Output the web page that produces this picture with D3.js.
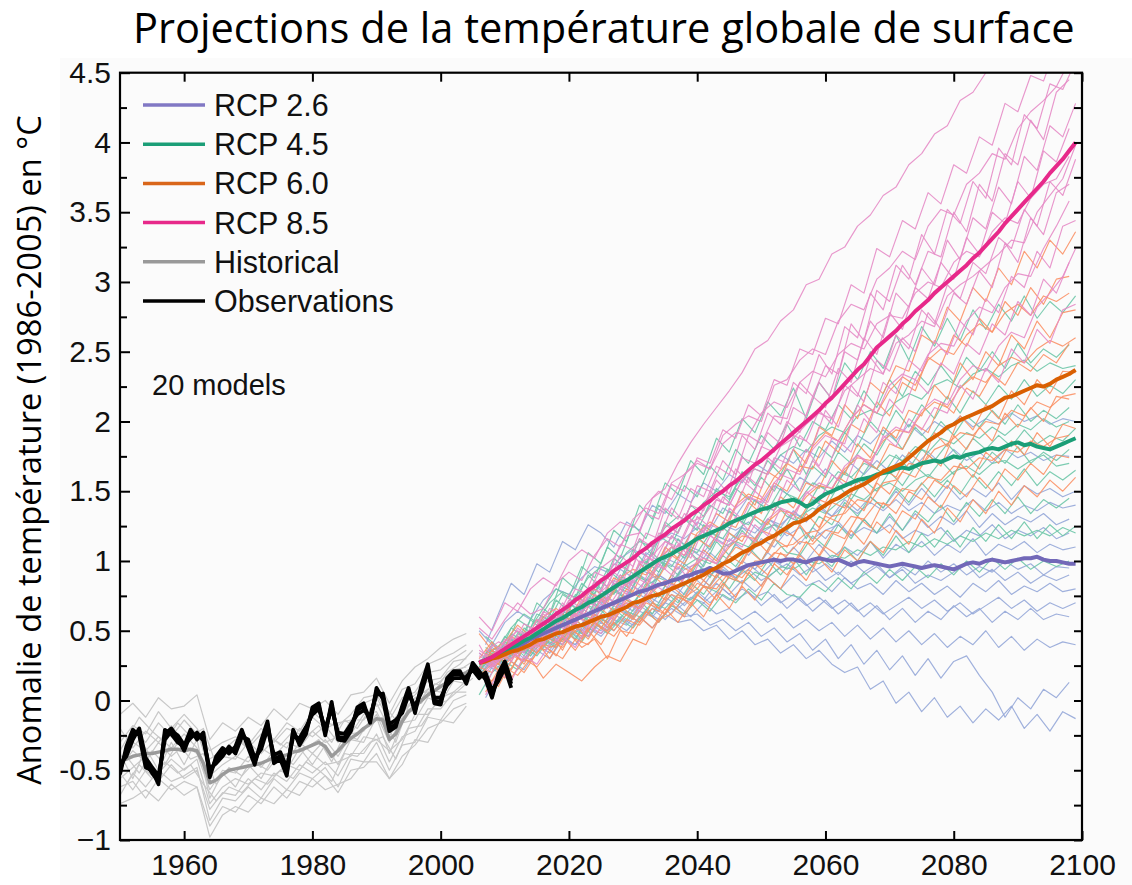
<!DOCTYPE html>
<html><head><meta charset="utf-8">
<script src="https://cdn.jsdelivr.net/npm/d3@7"></script>
<style>body{margin:0;background:#fff}</style>
</head><body>
<svg id="c" width="1132" height="885"></svg>
<script>
// ---------------- DATA ----------------
const xTicks = [1960, 1980, 2000, 2020, 2040, 2060, 2080, 2100];
const yMajorTicks = [-1, -0.5, 0, 0.5, 1, 1.5, 2, 2.5, 3, 3.5, 4, 4.5];
const yTickLabels = ["\u22121", "-0.5", "0", "0.5", "1", "1.5", "2", "2.5", "3", "3.5", "4", "4.5"];
const yMinorTicks = [-0.75, -0.25, 0.25, 0.75, 1.25, 1.75, 2.25, 2.75, 3.25, 3.75, 4.25];
const legendLabels = ["RCP 2.6", "RCP 4.5", "RCP 6.0", "RCP 8.5", "Historical", "Observations"];

// multi-model means, annual from 2006
const rcp26Mean = [0.27,0.29,0.31,0.33,0.35, 0.37,0.39,0.41,0.44,0.46, 0.48,0.50,0.52,0.54,0.56, 0.58,0.60,0.62,0.64,0.66,
  0.68,0.70,0.72,0.74,0.76, 0.78,0.79,0.81,0.83,0.84, 0.86,0.87,0.89,0.90,0.92, 0.93,0.95,0.93,0.91,0.91,
  0.93,0.95,0.97,0.98,0.99, 1.00,1.01,1.00,1.01,1.01, 1.00,0.99,1.01,1.02,1.01, 1.00,1.01,0.99,0.97,0.99,
  1.00,0.99,0.98,0.97,0.96, 0.97,0.98,0.97,0.96,0.95, 0.96,0.97,0.96,0.95,0.94, 0.96,0.98,0.99,0.98,1.00,
  1.01,1.00,0.99,1.00,1.01, 1.02,1.02,1.03,1.01,1.00, 1.00,0.99,0.98,0.98];
const rcp45Mean = [0.27,0.29,0.31,0.33,0.35, 0.38,0.40,0.43,0.45,0.48, 0.51,0.54,0.57,0.59,0.62, 0.65,0.67,0.70,0.72,0.75,
  0.78,0.81,0.84,0.86,0.89, 0.92,0.95,0.98,1.01,1.03, 1.05,1.08,1.10,1.13,1.16, 1.18,1.20,1.22,1.24,1.27,
  1.29,1.31,1.33,1.35,1.37, 1.38,1.40,1.42,1.43,1.44, 1.42,1.39,1.41,1.45,1.48, 1.50,1.52,1.54,1.56,1.58,
  1.59,1.60,1.62,1.63,1.64, 1.66,1.67,1.66,1.68,1.70, 1.71,1.72,1.71,1.73,1.75, 1.74,1.76,1.77,1.78,1.80,
  1.81,1.80,1.82,1.84,1.85, 1.83,1.84,1.82,1.81,1.80, 1.82,1.84,1.86,1.88];
const rcp60Mean = [0.27,0.28,0.30,0.31,0.33, 0.35,0.36,0.38,0.40,0.43, 0.44,0.46,0.48,0.49,0.51, 0.53,0.54,0.56,0.58,0.60,
  0.61,0.63,0.65,0.67,0.70, 0.71,0.73,0.75,0.76,0.78, 0.80,0.82,0.84,0.86,0.88, 0.90,0.93,0.95,0.98,1.00,
  1.03,1.06,1.08,1.11,1.13, 1.16,1.18,1.21,1.24,1.27, 1.28,1.30,1.33,1.37,1.40, 1.43,1.45,1.48,1.51,1.53,
  1.55,1.58,1.61,1.64,1.66, 1.68,1.70,1.74,1.78,1.82, 1.86,1.89,1.92,1.96,1.98, 2.01,2.03,2.05,2.07,2.09,
  2.11,2.14,2.17,2.18,2.20, 2.22,2.24,2.26,2.25,2.27, 2.30,2.32,2.34,2.37];
const rcp85Mean = [0.27,0.29,0.31,0.34,0.37, 0.40,0.43,0.46,0.49,0.52, 0.55,0.58,0.62,0.65,0.68, 0.72,0.75,0.79,0.82,0.86,
  0.89,0.93,0.96,0.99,1.02, 1.06,1.09,1.13,1.16,1.19, 1.23,1.26,1.29,1.33,1.36, 1.40,1.43,1.47,1.50,1.54,
  1.57,1.61,1.65,1.69,1.72, 1.76,1.80,1.84,1.88,1.92, 1.96,2.00,2.04,2.08,2.13, 2.17,2.22,2.27,2.32,2.37,
  2.41,2.47,2.53,2.57,2.61, 2.65,2.70,2.74,2.79,2.83, 2.87,2.92,2.96,3.00,3.04, 3.08,3.12,3.17,3.21,3.26,
  3.31,3.36,3.42,3.47,3.52, 3.57,3.62,3.67,3.72,3.78, 3.83,3.88,3.94,4.00];

// individual model runs, one value every 2 years
const rcp26Models = [
 [0.40,0.62,0.84,0.76,0.98,0.92,1.14,1.08,1.26,1.20,1.10,1.28,1.22,1.40,1.34,1.48,1.42,1.56,1.50,1.62,1.56,1.70,1.64,1.76,1.70,1.80,1.74,1.86,1.78,1.90,1.84,1.94,1.86,1.98,1.90,2.00,1.94,2.04,1.96,2.02,1.98,2.06,2.00,2.04,1.98,2.02,2.00],
 [0.22,0.36,0.30,0.46,0.40,0.58,0.52,0.70,0.64,0.82,0.76,0.94,0.88,1.06,1.00,1.18,1.12,1.28,1.22,1.38,1.32,1.46,1.40,1.54,1.48,1.60,1.54,1.66,1.58,1.70,1.62,1.72,1.64,1.76,1.68,1.78,1.70,1.80,1.72,1.78,1.70,1.80,1.74,1.78,1.72,1.76,1.75],
 [0.34,0.30,0.44,0.38,0.52,0.46,0.62,0.56,0.72,0.66,0.80,0.74,0.90,0.84,1.00,0.94,1.08,1.02,1.16,1.10,1.24,1.16,1.30,1.24,1.36,1.28,1.40,1.32,1.44,1.36,1.46,1.38,1.50,1.40,1.52,1.42,1.54,1.44,1.52,1.46,1.56,1.44,1.54,1.48,1.52,1.46,1.50],
 [0.26,0.38,0.32,0.42,0.50,0.44,0.58,0.50,0.66,0.60,0.74,0.68,0.82,0.76,0.90,0.84,0.98,0.90,1.06,0.98,1.12,1.04,1.16,1.10,1.22,1.12,1.24,1.16,1.28,1.18,1.30,1.20,1.32,1.22,1.34,1.24,1.32,1.26,1.36,1.24,1.34,1.26,1.32,1.28,1.34,1.26,1.30],
 [0.30,0.24,0.40,0.34,0.46,0.40,0.54,0.48,0.62,0.56,0.68,0.62,0.76,0.70,0.82,0.76,0.90,0.82,0.96,0.88,1.00,0.94,1.06,0.98,1.10,1.00,1.12,1.02,1.10,1.04,1.14,1.02,1.12,1.06,1.14,1.04,1.12,1.06,1.16,1.04,1.12,1.08,1.14,1.06,1.12,1.08,1.10],
 [0.20,0.32,0.28,0.40,0.34,0.48,0.42,0.56,0.50,0.62,0.56,0.70,0.64,0.76,0.70,0.84,0.76,0.90,0.82,0.94,0.88,0.98,0.90,1.00,0.94,1.02,0.92,0.98,0.90,1.00,0.92,0.98,0.88,0.96,0.90,1.00,0.92,0.98,0.90,0.96,0.92,1.00,0.94,0.98,0.90,0.96,0.95],
 [0.32,0.26,0.38,0.30,0.42,0.36,0.50,0.44,0.56,0.50,0.62,0.56,0.68,0.62,0.74,0.68,0.80,0.72,0.84,0.76,0.86,0.78,0.88,0.80,0.90,0.82,0.86,0.78,0.88,0.80,0.84,0.76,0.86,0.78,0.84,0.76,0.82,0.74,0.84,0.78,0.86,0.76,0.82,0.78,0.84,0.78,0.80],
 [0.24,0.36,0.30,0.44,0.38,0.50,0.44,0.56,0.48,0.62,0.56,0.66,0.60,0.72,0.64,0.76,0.68,0.78,0.70,0.80,0.72,0.78,0.68,0.76,0.66,0.74,0.64,0.72,0.62,0.70,0.60,0.68,0.58,0.66,0.56,0.64,0.58,0.68,0.60,0.66,0.56,0.64,0.58,0.66,0.58,0.62,0.60],
 [0.28,0.22,0.34,0.40,0.34,0.46,0.40,0.52,0.46,0.56,0.50,0.62,0.56,0.66,0.58,0.68,0.60,0.70,0.62,0.66,0.58,0.64,0.56,0.62,0.52,0.58,0.50,0.56,0.46,0.54,0.44,0.52,0.42,0.50,0.40,0.48,0.38,0.46,0.40,0.50,0.38,0.46,0.36,0.44,0.38,0.42,0.40],
 [0.18,0.30,0.26,0.38,0.32,0.44,0.38,0.50,0.44,0.56,0.50,0.60,0.54,0.64,0.58,0.66,0.60,0.62,0.54,0.58,0.50,0.56,0.46,0.52,0.42,0.48,0.36,0.44,0.30,0.40,0.26,0.36,0.22,0.32,0.18,0.30,0.16,0.28,0.32,0.18,0.06,-0.12,0.02,-0.06,0.08,0.02,0.13],
 [0.26,0.20,0.34,0.28,0.40,0.34,0.46,0.40,0.52,0.46,0.56,0.50,0.60,0.52,0.62,0.56,0.58,0.50,0.54,0.44,0.50,0.40,0.44,0.34,0.40,0.30,0.36,0.26,0.20,0.24,0.08,0.14,-0.02,0.06,-0.08,0.02,-0.12,-0.04,-0.16,-0.06,-0.14,-0.04,-0.20,-0.10,-0.22,-0.08,-0.13],
 [0.50,0.40,0.56,0.64,0.58,0.72,0.80,0.76,0.88,0.96,0.92,1.02,1.08,1.04,1.14,1.20,1.16,1.24,1.18,1.26,1.22,1.28,1.20,1.26,1.18,1.24,1.16,1.22,1.26,1.18,1.24,1.20,1.26,1.16,1.22,1.18,1.24,1.14,1.22,1.18,1.26,1.16,1.22,1.18,1.24,1.16,1.20],
 [0.02,0.18,0.28,0.22,0.36,0.30,0.44,0.40,0.52,0.48,0.58,0.54,0.64,0.60,0.70,0.66,0.74,0.70,0.78,0.72,0.80,0.74,0.78,0.70,0.76,0.68,0.74,0.66,0.72,0.64,0.70,0.62,0.68,0.74,0.66,0.72,0.64,0.70,0.62,0.68,0.74,0.66,0.72,0.64,0.70,0.66,0.70],
 [0.34,0.26,0.40,0.34,0.48,0.56,0.50,0.62,0.70,0.64,0.74,0.80,0.76,0.86,0.90,0.84,0.94,0.98,0.90,0.96,0.88,0.94,0.86,0.92,0.98,0.90,0.96,0.86,0.92,0.84,0.90,0.96,0.88,0.94,0.84,0.90,0.86,0.92,0.98,0.88,0.94,0.86,0.92,0.84,0.90,0.86,0.90],
 [0.16,0.32,0.44,0.38,0.54,0.48,0.64,0.60,0.74,0.70,0.84,0.80,0.94,0.90,1.02,0.98,1.10,1.06,1.18,1.14,1.24,1.20,1.30,1.26,1.34,1.30,1.38,1.32,1.40,1.34,1.42,1.36,1.44,1.36,1.42,1.34,1.40,1.36,1.44,1.36,1.42,1.34,1.40,1.36,1.42,1.38,1.40]
];
const rcp45Models = [
 [0.38,0.32,0.52,0.46,0.70,0.62,0.88,0.80,1.06,0.98,1.22,1.14,1.40,1.30,1.56,1.48,1.72,1.62,1.88,1.78,2.02,1.92,2.14,2.04,2.24,2.02,2.28,2.16,2.42,2.30,2.50,2.38,2.62,2.44,2.68,2.54,2.74,2.58,2.80,2.66,2.84,2.72,2.90,2.74,2.86,2.78,2.90],
 [0.24,0.40,0.36,0.58,0.52,0.66,0.80,0.74,0.96,0.88,1.10,1.02,1.26,1.16,1.40,1.32,1.54,1.46,1.68,1.58,1.80,1.70,1.90,1.80,1.98,1.82,2.00,1.94,2.12,2.02,2.22,2.10,2.30,2.18,2.36,2.26,2.40,2.28,2.46,2.36,2.50,2.38,2.56,2.42,2.52,2.46,2.55],
 [0.36,0.30,0.48,0.42,0.62,0.58,0.76,0.70,0.90,0.80,1.02,0.94,1.16,1.04,1.28,1.20,1.40,1.32,1.52,1.44,1.64,1.54,1.72,1.62,1.80,1.62,1.82,1.74,1.92,1.82,2.00,1.90,2.08,1.96,2.12,2.02,2.18,2.06,2.22,2.12,2.26,2.16,2.30,2.18,2.26,2.20,2.30],
 [0.22,0.30,0.46,0.40,0.58,0.50,0.72,0.64,0.84,0.76,0.94,0.86,1.08,0.98,1.18,1.12,1.30,1.22,1.40,1.34,1.52,1.44,1.60,1.50,1.66,1.50,1.68,1.60,1.78,1.70,1.84,1.76,1.92,1.80,1.96,1.86,2.00,1.90,2.04,1.96,2.08,1.98,2.12,2.00,2.08,2.02,2.10],
 [0.34,0.38,0.30,0.52,0.46,0.62,0.56,0.76,0.68,0.86,0.76,0.94,0.88,1.06,0.96,1.16,1.06,1.26,1.18,1.36,1.28,1.44,1.36,1.52,1.44,1.38,1.54,1.48,1.64,1.56,1.70,1.62,1.76,1.66,1.80,1.72,1.84,1.74,1.88,1.80,1.90,1.82,1.94,1.84,1.90,1.86,1.95],
 [0.26,0.40,0.34,0.48,0.42,0.60,0.52,0.70,0.62,0.80,0.72,0.90,0.82,1.00,0.92,1.10,1.02,1.18,1.08,1.24,1.16,1.34,1.26,1.42,1.32,1.28,1.44,1.38,1.54,1.44,1.58,1.50,1.64,1.54,1.68,1.60,1.72,1.62,1.76,1.66,1.78,1.70,1.82,1.70,1.78,1.72,1.80],
 [0.32,0.26,0.44,0.36,0.52,0.44,0.62,0.54,0.72,0.64,0.80,0.72,0.90,0.80,0.98,0.90,1.06,0.96,1.14,1.04,1.22,1.12,1.28,1.18,1.34,1.16,1.32,1.26,1.42,1.32,1.46,1.38,1.52,1.42,1.56,1.46,1.58,1.48,1.62,1.52,1.64,1.54,1.66,1.54,1.64,1.58,1.65],
 [0.20,0.36,0.30,0.44,0.38,0.52,0.46,0.62,0.54,0.70,0.60,0.76,0.68,0.84,0.74,0.90,0.82,0.98,0.88,1.04,0.96,1.10,1.00,1.16,1.06,1.04,1.18,1.10,1.26,1.16,1.30,1.20,1.34,1.22,1.36,1.28,1.40,1.28,1.42,1.32,1.44,1.34,1.46,1.34,1.44,1.38,1.45],
 [0.34,0.28,0.40,0.32,0.46,0.38,0.54,0.44,0.60,0.52,0.66,0.58,0.72,0.62,0.78,0.70,0.84,0.76,0.90,0.80,0.94,0.86,1.00,0.90,1.02,0.90,1.04,0.96,1.10,1.00,1.14,1.04,1.18,1.06,1.20,1.10,1.22,1.10,1.24,1.14,1.26,1.16,1.28,1.16,1.26,1.18,1.25],
 [0.24,0.34,0.26,0.40,0.32,0.44,0.38,0.50,0.42,0.56,0.48,0.58,0.52,0.64,0.56,0.68,0.62,0.72,0.64,0.76,0.70,0.80,0.72,0.84,0.76,0.74,0.84,0.78,0.88,0.80,0.92,0.84,0.94,0.86,0.96,0.88,0.98,0.90,1.00,0.92,1.02,0.94,1.02,0.94,1.00,0.96,1.00],
 [0.46,0.38,0.52,0.62,0.56,0.70,0.78,0.74,0.88,0.96,0.92,1.06,1.14,1.10,1.24,1.32,1.28,1.42,1.50,1.46,1.60,1.66,1.62,1.76,1.82,1.78,1.90,1.96,1.92,2.04,2.08,2.04,2.14,2.20,2.16,2.26,2.30,2.24,2.34,2.38,2.32,2.40,2.44,2.36,2.42,2.38,2.40],
 [0.04,0.20,0.28,0.22,0.36,0.44,0.40,0.52,0.60,0.56,0.68,0.74,0.70,0.82,0.88,0.84,0.96,1.02,0.98,1.10,1.14,1.10,1.22,1.26,1.22,1.32,1.38,1.34,1.42,1.48,1.44,1.52,1.56,1.50,1.58,1.62,1.56,1.64,1.68,1.62,1.70,1.72,1.66,1.72,1.76,1.68,1.70],
 [0.36,0.30,0.22,0.38,0.32,0.44,0.40,0.50,0.46,0.58,0.54,0.64,0.60,0.70,0.66,0.76,0.72,0.82,0.78,0.88,0.84,0.92,0.88,0.96,0.94,1.00,0.98,1.04,1.02,1.08,1.04,1.10,1.08,1.14,1.10,1.16,1.12,1.18,1.14,1.20,1.16,1.22,1.18,1.22,1.18,1.24,1.20],
 [0.18,0.28,0.42,0.34,0.50,0.46,0.62,0.56,0.70,0.66,0.80,0.76,0.90,0.86,1.00,0.96,1.10,1.06,1.20,1.16,1.30,1.26,1.40,1.36,1.48,1.44,1.56,1.52,1.64,1.60,1.70,1.66,1.76,1.72,1.82,1.78,1.88,1.84,1.92,1.88,1.96,1.90,1.98,1.94,2.02,1.96,2.00]
];
const rcp60Models = [
 [0.36,0.30,0.46,0.40,0.58,0.50,0.66,0.60,0.78,0.72,0.88,0.82,0.98,0.90,1.10,1.02,1.20,1.16,1.34,1.28,1.50,1.40,1.64,1.58,1.80,1.70,1.96,1.90,2.12,2.02,2.28,2.20,2.40,2.36,2.62,2.56,2.82,2.72,2.96,2.86,3.10,2.98,3.22,3.10,3.30,3.20,3.36],
 [0.22,0.36,0.30,0.46,0.42,0.56,0.50,0.66,0.58,0.76,0.70,0.86,0.78,0.96,0.88,1.04,0.98,1.16,1.10,1.28,1.24,1.42,1.34,1.56,1.50,1.68,1.66,1.86,1.78,1.98,1.92,2.14,2.04,2.28,2.22,2.46,2.40,2.62,2.54,2.74,2.64,2.86,2.76,2.96,2.84,3.02,3.04],
 [0.32,0.26,0.42,0.36,0.40,0.54,0.48,0.62,0.56,0.72,0.64,0.80,0.74,0.90,0.82,0.98,0.92,1.08,1.00,1.20,1.14,1.32,1.26,1.46,1.38,1.56,1.52,1.72,1.62,1.84,1.74,1.96,1.88,2.08,2.04,2.26,2.16,2.42,2.30,2.50,2.40,2.62,2.52,2.72,2.60,2.78,2.80],
 [0.20,0.14,0.24,0.18,0.30,0.16,0.26,0.20,0.14,0.24,0.32,0.28,0.44,0.40,0.58,0.62,0.74,0.80,0.92,0.98,1.10,1.06,1.22,1.18,1.36,1.30,1.46,1.42,1.60,1.54,1.72,1.66,1.84,1.80,1.98,1.92,2.14,2.06,2.24,2.18,2.34,2.26,2.42,2.36,2.48,2.42,2.56],
 [0.30,0.36,0.28,0.44,0.38,0.52,0.42,0.58,0.50,0.66,0.58,0.72,0.66,0.80,0.72,0.88,0.80,0.94,0.88,1.04,0.98,1.16,1.06,1.22,1.18,1.34,1.24,1.42,1.38,1.58,1.48,1.66,1.60,1.78,1.70,1.92,1.82,2.04,1.94,2.12,2.02,2.22,2.12,2.30,2.20,2.36,2.35],
 [0.24,0.20,0.36,0.30,0.46,0.36,0.40,0.54,0.44,0.62,0.52,0.68,0.60,0.76,0.66,0.82,0.74,0.90,0.82,0.98,0.92,1.08,1.00,1.16,1.10,1.26,1.14,1.32,1.28,1.44,1.36,1.56,1.48,1.64,1.60,1.76,1.68,1.90,1.80,1.96,1.86,2.06,1.96,2.10,2.00,2.18,2.16],
 [0.34,0.26,0.22,0.40,0.34,0.48,0.36,0.54,0.44,0.60,0.50,0.62,0.56,0.70,0.62,0.76,0.68,0.82,0.72,0.90,0.84,0.98,0.90,1.06,0.98,1.14,1.04,1.20,1.16,1.32,1.24,1.42,1.34,1.50,1.44,1.58,1.52,1.70,1.60,1.78,1.70,1.86,1.76,1.92,1.82,1.98,1.95],
 [0.18,0.26,0.16,0.30,0.28,0.40,0.32,0.48,0.38,0.44,0.30,0.50,0.48,0.64,0.56,0.70,0.60,0.76,0.68,0.84,0.74,0.92,0.82,0.98,0.90,1.04,0.96,1.10,1.04,1.22,1.12,1.28,1.20,1.36,1.30,1.46,1.38,1.54,1.46,1.60,1.50,1.66,1.58,1.70,1.62,1.76,1.74],
 [0.32,0.22,0.36,0.26,0.42,0.30,0.46,0.36,0.50,0.40,0.56,0.46,0.60,0.52,0.66,0.56,0.70,0.60,0.76,0.66,0.82,0.72,0.88,0.80,0.96,0.86,1.02,0.92,1.08,1.00,1.14,1.06,1.22,1.12,1.30,1.20,1.38,1.28,1.44,1.34,1.50,1.40,1.54,1.46,1.58,1.50,1.60],
 [0.48,0.36,0.42,0.54,0.46,0.60,0.66,0.58,0.74,0.80,0.72,0.88,0.94,0.90,1.02,1.10,1.04,1.20,1.28,1.22,1.40,1.48,1.44,1.60,1.70,1.64,1.82,1.92,1.86,2.02,2.12,2.06,2.22,2.32,2.26,2.44,2.52,2.48,2.62,2.70,2.64,2.78,2.84,2.76,2.90,2.86,2.92],
 [0.06,0.22,0.16,0.30,0.24,0.36,0.30,0.44,0.40,0.52,0.46,0.58,0.54,0.66,0.62,0.74,0.70,0.82,0.80,0.92,0.88,1.00,1.00,1.10,1.12,1.20,1.22,1.32,1.34,1.44,1.42,1.56,1.58,1.70,1.68,1.80,1.84,1.92,1.90,2.00,1.98,2.08,2.04,2.14,2.10,2.18,2.20],
 [0.30,0.42,0.26,0.34,0.48,0.40,0.38,0.52,0.46,0.56,0.50,0.64,0.58,0.70,0.66,0.76,0.72,0.84,0.80,0.90,0.86,0.98,0.96,1.06,1.04,1.14,1.12,1.22,1.20,1.32,1.30,1.42,1.40,1.52,1.50,1.60,1.58,1.68,1.66,1.74,1.72,1.80,1.78,1.86,1.82,1.88,1.90],
 [0.14,0.10,0.28,0.20,0.34,0.44,0.38,0.50,0.58,0.52,0.64,0.70,0.66,0.78,0.86,0.82,0.94,1.02,0.98,1.10,1.18,1.16,1.28,1.36,1.34,1.46,1.54,1.52,1.66,1.74,1.72,1.86,1.94,1.92,2.06,2.14,2.10,2.24,2.32,2.28,2.40,2.46,2.42,2.52,2.58,2.54,2.60]
];
const rcp85Models = [
 [0.35,0.42,0.38,0.55,0.50,0.66,0.62,0.80,0.76,0.95,1.02,1.18,1.20,1.45,1.52,1.70,1.85,1.98,2.10,2.22,2.35,2.52,2.58,2.72,2.80,2.98,3.02,3.20,3.25,3.40,3.48,3.62,3.68,3.84,3.92,4.06,4.12,4.30,4.36,4.50,4.58,4.72,4.80,4.95,5.02,5.15,5.22],
 [0.22,0.40,0.36,0.52,0.44,0.64,0.58,0.76,0.70,0.92,0.88,1.12,1.08,1.34,1.30,1.55,1.50,1.74,1.70,1.94,1.88,2.12,2.04,2.30,2.26,2.52,2.48,2.74,2.70,2.98,2.92,3.24,3.18,3.44,3.38,3.64,3.56,3.84,3.78,4.04,3.98,4.28,4.22,4.48,4.44,4.70,4.80],
 [0.30,0.28,0.45,0.40,0.58,0.52,0.70,0.60,0.80,0.78,0.98,0.94,1.16,1.10,1.38,1.30,1.52,1.46,1.68,1.62,1.90,1.80,2.06,1.98,2.28,2.20,2.48,2.34,2.68,2.60,2.92,2.80,3.12,3.02,3.34,3.20,3.52,3.42,3.72,3.60,3.96,3.84,4.20,4.10,4.42,4.38,4.58],
 [0.36,0.30,0.42,0.50,0.44,0.62,0.56,0.72,0.66,0.86,0.82,1.04,0.96,1.20,1.16,1.38,1.28,1.54,1.50,1.72,1.62,1.90,1.84,2.04,2.02,2.28,2.18,2.40,2.34,2.70,2.58,2.94,2.86,3.12,2.98,3.22,3.18,3.50,3.36,3.70,3.58,3.92,3.84,4.16,4.02,4.36,4.45],
 [0.24,0.38,0.34,0.48,0.52,0.50,0.66,0.60,0.74,0.72,0.92,0.84,1.08,1.00,1.26,1.20,1.40,1.36,1.58,1.48,1.74,1.70,1.92,1.84,2.10,2.04,2.28,2.16,2.50,2.44,2.72,2.60,2.92,2.82,3.10,2.98,3.30,3.16,3.46,3.38,3.68,3.56,3.90,3.80,4.12,4.04,4.28],
 [0.32,0.26,0.44,0.38,0.52,0.46,0.64,0.56,0.72,0.70,0.88,0.80,1.04,0.94,1.20,1.16,1.34,1.26,1.50,1.42,1.66,1.56,1.82,1.78,2.00,1.92,2.18,2.10,2.38,2.28,2.60,2.48,2.78,2.66,2.96,2.88,3.14,3.02,3.32,3.20,3.50,3.42,3.72,3.60,3.94,3.86,4.10],
 [0.20,0.30,0.40,0.34,0.50,0.44,0.60,0.54,0.70,0.66,0.84,0.76,1.00,0.96,1.14,1.10,1.30,1.20,1.44,1.40,1.58,1.50,1.74,1.66,1.90,1.86,2.08,1.98,2.26,2.18,2.46,2.34,2.62,2.52,2.80,2.70,2.98,2.88,3.14,3.06,3.32,3.24,3.52,3.40,3.72,3.62,3.88],
 [0.34,0.28,0.36,0.46,0.40,0.56,0.48,0.64,0.58,0.76,0.72,0.90,0.84,1.04,0.98,1.18,1.08,1.32,1.24,1.46,1.38,1.60,1.52,1.74,1.70,1.90,1.82,2.08,1.96,2.26,2.14,2.44,2.36,2.60,2.50,2.78,2.66,2.92,2.84,3.08,2.96,3.28,3.14,3.46,3.34,3.64,3.70],
 [0.26,0.36,0.30,0.44,0.38,0.52,0.46,0.62,0.54,0.72,0.68,0.86,0.78,0.98,0.94,1.12,1.02,1.24,1.14,1.38,1.30,1.50,1.42,1.62,1.58,1.80,1.68,1.88,1.84,2.12,2.00,2.28,2.20,2.44,2.36,2.58,2.48,2.72,2.62,2.88,2.78,3.04,2.96,3.22,3.10,3.40,3.44],
 [0.30,0.24,0.40,0.32,0.46,0.40,0.56,0.48,0.62,0.58,0.74,0.66,0.86,0.80,0.98,0.90,1.10,1.00,1.18,1.12,1.32,1.22,1.44,1.36,1.58,1.50,1.72,1.62,1.86,1.78,2.02,1.92,2.16,2.06,2.30,2.20,2.42,2.34,2.56,2.48,2.70,2.62,2.86,2.76,3.02,2.92,3.14],
 [0.22,0.34,0.28,0.42,0.36,0.48,0.40,0.56,0.46,0.62,0.58,0.74,0.66,0.84,0.78,0.96,0.86,1.06,0.98,1.16,1.10,1.26,1.18,1.38,1.30,1.50,1.42,1.62,1.54,1.76,1.68,1.90,1.82,2.02,1.94,2.10,2.06,2.26,2.16,2.38,2.28,2.52,2.42,2.66,2.56,2.80,2.84],
 [0.52,0.44,0.58,0.70,0.62,0.66,0.84,0.92,0.86,1.04,1.16,1.10,1.30,1.38,1.34,1.56,1.62,1.70,1.66,1.90,1.98,2.04,2.00,2.26,2.30,2.44,2.52,2.48,2.72,2.84,2.80,3.02,3.10,3.22,3.16,3.40,3.52,3.48,3.70,3.78,3.92,3.88,4.10,4.22,4.30,4.40,4.58],
 [0.10,0.30,0.36,0.28,0.46,0.52,0.48,0.66,0.60,0.78,0.86,0.82,0.98,1.04,1.14,1.08,1.28,1.32,1.44,1.40,1.58,1.66,1.62,1.82,1.88,1.98,2.06,2.02,2.22,2.30,2.38,2.34,2.56,2.62,2.72,2.68,2.90,2.98,3.04,3.12,3.20,3.30,3.28,3.50,3.62,3.74,3.98],
 [0.40,0.24,0.32,0.44,0.38,0.42,0.56,0.50,0.64,0.72,0.66,0.80,0.90,0.84,1.00,1.10,1.04,1.18,1.26,1.22,1.38,1.46,1.42,1.56,1.66,1.62,1.80,1.90,1.86,2.02,2.12,2.06,2.26,2.34,2.30,2.48,2.56,2.54,2.72,2.82,2.78,2.96,3.06,3.04,3.24,3.40,3.58],
 [0.04,0.20,0.14,0.32,0.26,0.40,0.46,0.38,0.54,0.48,0.62,0.70,0.64,0.78,0.86,0.80,0.96,1.02,0.98,1.12,1.20,1.14,1.30,1.38,1.34,1.48,1.56,1.52,1.68,1.76,1.70,1.88,1.96,1.92,2.08,2.16,2.12,2.30,2.40,2.36,2.54,2.64,2.60,2.82,2.92,3.04,3.24],
 [0.60,0.50,0.70,0.64,0.80,0.88,0.82,1.00,1.08,1.02,1.20,1.28,1.24,1.40,1.50,1.44,1.62,1.72,1.66,1.84,1.92,1.90,2.06,2.14,2.10,2.28,2.36,2.32,2.48,2.56,2.52,2.70,2.76,2.74,2.92,3.00,2.96,3.14,3.22,3.18,3.36,3.46,3.42,3.60,3.70,3.74,3.90]
];
// first year of each run's record (runs are sampled every 2 years)
const runStartYears = [2007, 2006];

// historical model runs, every 2 years
const histModels = [
 [-0.10,-0.02,-0.12,0.02,-0.06,-0.04,0.04,-0.28,-0.16,-0.22,-0.12,-0.18,-0.06,-0.14,-0.02,-0.06,0.00,-0.10,0.04,0.06,0.16,-0.02,0.14,0.24,0.30,0.38,0.44,0.48],
 [-0.30,-0.18,-0.24,-0.08,-0.20,-0.10,-0.20,-0.36,-0.30,-0.26,-0.32,-0.20,-0.28,-0.16,-0.22,-0.08,-0.16,-0.18,-0.10,0.02,0.04,-0.10,0.08,0.12,0.26,0.30,0.34,0.40],
 [-0.20,-0.34,-0.22,-0.30,-0.18,-0.30,-0.22,-0.50,-0.40,-0.42,-0.30,-0.38,-0.28,-0.34,-0.20,-0.26,-0.18,-0.30,-0.14,-0.14,-0.02,-0.20,-0.04,0.04,0.14,0.16,0.28,0.30],
 [-0.48,-0.36,-0.44,-0.30,-0.40,-0.32,-0.38,-0.64,-0.50,-0.52,-0.40,-0.48,-0.36,-0.44,-0.30,-0.38,-0.28,-0.40,-0.24,-0.22,-0.10,-0.30,-0.12,-0.06,0.08,0.06,0.20,0.18],
 [-0.56,-0.48,-0.40,-0.52,-0.42,-0.50,-0.42,-0.74,-0.62,-0.56,-0.60,-0.52,-0.54,-0.46,-0.50,-0.38,-0.46,-0.44,-0.40,-0.26,-0.28,-0.36,-0.28,-0.10,-0.10,0.02,0.06,0.14],
 [-0.68,-0.52,-0.62,-0.50,-0.58,-0.54,-0.48,-0.86,-0.70,-0.72,-0.62,-0.70,-0.56,-0.64,-0.52,-0.56,-0.48,-0.62,-0.42,-0.44,-0.30,-0.50,-0.32,-0.30,-0.12,-0.14,0.00,0.04],
 [-0.74,-0.70,-0.64,-0.72,-0.60,-0.68,-0.62,-0.98,-0.82,-0.76,-0.80,-0.70,-0.74,-0.64,-0.68,-0.56,-0.64,-0.60,-0.56,-0.44,-0.44,-0.56,-0.46,-0.28,-0.30,-0.14,-0.16,-0.04],
 [-0.38,-0.56,-0.34,-0.50,-0.30,-0.46,-0.28,-0.70,-0.52,-0.62,-0.46,-0.56,-0.40,-0.50,-0.34,-0.46,-0.32,-0.46,-0.28,-0.30,-0.12,-0.38,-0.16,-0.14,0.02,-0.02,0.14,0.12],
 [-0.36,-0.20,-0.30,-0.16,-0.26,-0.14,-0.24,-0.42,-0.36,-0.28,-0.34,-0.24,-0.30,-0.20,-0.24,-0.12,-0.20,-0.16,-0.14,-0.02,0.02,-0.14,0.02,0.06,0.20,0.22,0.30,0.36],
 [-0.52,-0.64,-0.50,-0.58,-0.46,-0.56,-0.50,-0.78,-0.66,-0.68,-0.56,-0.64,-0.52,-0.58,-0.46,-0.52,-0.44,-0.54,-0.38,-0.38,-0.24,-0.44,-0.26,-0.22,-0.06,-0.06,0.06,0.06],
 [-0.44,-0.30,-0.36,-0.26,-0.34,-0.24,-0.34,-0.54,-0.46,-0.40,-0.44,-0.34,-0.40,-0.30,-0.34,-0.22,-0.30,-0.26,-0.24,-0.10,-0.08,-0.26,-0.08,0.02,0.08,0.14,0.22,0.24],
 [-0.62,-0.58,-0.70,-0.56,-0.64,-0.58,-0.62,-0.90,-0.76,-0.80,-0.68,-0.74,-0.62,-0.70,-0.58,-0.62,-0.54,-0.66,-0.50,-0.48,-0.38,-0.56,-0.40,-0.32,-0.20,-0.16,-0.06,-0.02]
];
// historical runs recorded on odd years, every 2 years from 1951
const histModelsOdd = [
 [-0.28,-0.12,-0.22,-0.30,-0.16,-0.26,-0.20,-0.46,-0.36,-0.30,-0.38,-0.24,-0.32,-0.22,-0.26,-0.18,-0.30,-0.14,-0.20,-0.06,-0.02,-0.14,-0.04,0.06,0.06,0.20,0.26,0.36],
 [-0.60,-0.46,-0.56,-0.44,-0.52,-0.46,-0.60,-0.72,-0.62,-0.66,-0.56,-0.60,-0.50,-0.56,-0.44,-0.50,-0.58,-0.38,-0.40,-0.30,-0.26,-0.42,-0.20,-0.18,-0.04,0.00,0.08,0.16],
 [-0.40,-0.52,-0.36,-0.46,-0.30,-0.42,-0.38,-0.60,-0.48,-0.54,-0.44,-0.50,-0.38,-0.46,-0.34,-0.28,-0.44,-0.24,-0.28,-0.14,-0.12,-0.30,-0.04,-0.02,0.12,0.10,0.22,0.28]
];
// historical multi-model mean, annual 1950-2005
const histMean = [-0.44,-0.42,-0.40,-0.39,-0.38,-0.38,-0.37,-0.36,-0.35,-0.35,
  -0.36,-0.35,-0.36,-0.45,-0.59,-0.57,-0.53,-0.50,-0.49,-0.48,
  -0.47,-0.46,-0.45,-0.43,-0.41,-0.40,-0.39,-0.37,-0.36,-0.34,
  -0.32,-0.30,-0.33,-0.40,-0.36,-0.31,-0.27,-0.24,-0.20,-0.17,
  -0.13,-0.14,-0.28,-0.24,-0.15,-0.08,-0.04,0.00,0.04,0.07,
  0.10,0.13,0.16,0.18,0.20,0.23];
// observational datasets, annual 1950-2011
const obsA = [-0.50,-0.36,-0.24,-0.22,-0.45,-0.52,-0.58,-0.24,-0.20,-0.27,
  -0.36,-0.24,-0.25,-0.26,-0.52,-0.42,-0.37,-0.35,-0.36,-0.23,
  -0.31,-0.44,-0.32,-0.17,-0.42,-0.40,-0.52,-0.23,-0.30,-0.22,
  -0.07,-0.04,-0.23,-0.03,-0.26,-0.27,-0.20,-0.07,-0.04,-0.14,
  0.07,0.03,-0.20,-0.17,-0.06,0.07,-0.07,0.09,0.24,0.00,
  -0.01,0.14,0.19,0.19,0.14,0.25,0.19,0.17,0.04,0.17, 0.26,0.12];
const obsB = [-0.46,-0.40,-0.28,-0.20,-0.41,-0.48,-0.54,-0.28,-0.22,-0.25,
  -0.32,-0.27,-0.23,-0.29,-0.49,-0.45,-0.40,-0.33,-0.38,-0.26,
  -0.28,-0.41,-0.35,-0.20,-0.39,-0.37,-0.48,-0.26,-0.27,-0.19,
  -0.10,-0.06,-0.20,-0.06,-0.23,-0.24,-0.17,-0.10,-0.07,-0.11,
  0.04,0.05,-0.17,-0.14,-0.09,0.04,-0.04,0.06,0.21,0.02,
  0.02,0.11,0.16,0.16,0.17,0.22,0.16,0.20,0.07,0.14, 0.23,0.09];
const obsC = [-0.53,-0.33,-0.21,-0.25,-0.48,-0.50,-0.60,-0.21,-0.24,-0.30,
  -0.33,-0.21,-0.28,-0.23,-0.55,-0.40,-0.34,-0.38,-0.33,-0.21,
  -0.34,-0.46,-0.29,-0.15,-0.45,-0.42,-0.54,-0.21,-0.32,-0.24,
  -0.05,-0.02,-0.25,-0.01,-0.28,-0.29,-0.22,-0.05,-0.02,-0.16,
  0.09,0.01,-0.22,-0.19,-0.04,0.09,-0.09,0.11,0.26,-0.02,
  -0.03,0.16,0.21,0.21,0.12,0.27,0.21,0.15,0.02,0.19, 0.28,0.14];

// ---------------- CHART ----------------
const svg = d3.select('#c');
const plotL = 120, plotR = 1082, plotT = 72.7, plotB = 840;
const x = d3.scaleLinear().domain([1950, 2100]).range([plotL, plotR]);
const y = d3.scaleLinear().domain([-1, 4.5]).range([plotB, plotT]);
const FONT = "'Liberation Sans', Arial, Helvetica, sans-serif";
const TFONT = "'Open Sans', 'Noto Sans', sans-serif";

svg.append('rect').attr('x', 0).attr('y', 0).attr('width', 1132).attr('height', 885).attr('fill', '#fff');
svg.append('rect').attr('x', 60).attr('y', 58).attr('width', 1072).attr('height', 827).attr('fill', '#fbfbfb');

svg.append('defs').append('clipPath').attr('id', 'clip')
  .append('rect').attr('x', plotL).attr('y', plotT).attr('width', plotR - plotL).attr('height', plotB - plotT);

const line = d3.line().x(d => x(d[0])).y(d => y(d[1]));
const toPts = (vals, start, step) => vals.map((v, i) => [start + i * step, v]);

const plot = svg.append('g').attr('clip-path', 'url(#clip)');

// historical runs
const histG = plot.append('g').attr('fill', 'none').attr('stroke', '#c8c8c8').attr('stroke-width', 1.2).attr('stroke-linejoin', 'round');
histG.selectAll('path.e').data(histModels).join('path').attr('class', 'e').attr('d', d => line(toPts(d, 1950, 2)));
histG.selectAll('path.o').data(histModelsOdd).join('path').attr('class', 'o').attr('d', d => line(toPts(d, 1951, 2)));

const scen = [
  {models: rcp26Models, mean: rcp26Mean, thin: '#95a7d8', thick: '#7268b8'},
  {models: rcp45Models, mean: rcp45Mean, thin: '#6ec6a9', thick: '#1b9e77'},
  {models: rcp60Models, mean: rcp60Mean, thin: '#fb9166', thick: '#d95f02'},
  {models: rcp85Models, mean: rcp85Mean, thin: '#e58cc6', thick: '#e7298a'}
];
scen.forEach(s => {
  plot.append('g').selectAll('path').data(s.models).join('path')
    .attr('d', (d, i) => line(toPts(d, runStartYears[i % 2], 2)))
    .attr('fill', 'none').attr('stroke', s.thin).attr('stroke-width', 1.15)
    .attr('stroke-opacity', 0.9).attr('stroke-linejoin', 'round');
});

// historical mean
plot.append('path').attr('d', line(toPts(histMean, 1950, 1)))
  .attr('fill', 'none').attr('stroke', '#9a9a9a').attr('stroke-width', 3.5).attr('stroke-linejoin', 'round');

// scenario means
scen.forEach(s => {
  plot.append('path').attr('d', line(toPts(s.mean, 2006, 1)))
    .attr('fill', 'none').attr('stroke', s.thick).attr('stroke-width', 4).attr('stroke-linejoin', 'round');
});

// observations
plot.append('g').selectAll('path').data([obsA, obsB, obsC]).join('path')
  .attr('d', d => line(toPts(d, 1950, 1)))
  .attr('fill', 'none').attr('stroke', '#000').attr('stroke-width', 3.8).attr('stroke-linejoin', 'round');

// axes
function styleAxis(g) {
  g.select('.domain').remove();
  g.selectAll('.tick line').attr('stroke', '#000').attr('stroke-width', 2);
  g.selectAll('text').attr('font-family', FONT).attr('font-size', 30).attr('fill', '#111');
}
svg.append('g').attr('transform', `translate(0,${plotB})`)
  .call(d3.axisBottom(x).tickValues(xTicks).tickSize(-9).tickPadding(14).tickFormat(d3.format('d')))
  .call(styleAxis);
svg.append('g').attr('transform', `translate(0,${plotT})`)
  .call(d3.axisTop(x).tickValues(xTicks).tickSize(-9).tickFormat(''))
  .call(styleAxis);
svg.append('g').attr('transform', `translate(${plotL},0)`)
  .call(d3.axisLeft(y).tickValues(yMajorTicks).tickSize(-10).tickPadding(9).tickFormat((d, i) => yTickLabels[i]))
  .call(styleAxis);
svg.append('g').attr('transform', `translate(${plotL},0)`)
  .call(d3.axisLeft(y).tickValues(yMinorTicks).tickSize(-7).tickFormat(''))
  .call(styleAxis);
svg.append('g').attr('transform', `translate(${plotR},0)`)
  .call(d3.axisRight(y).tickValues(yMajorTicks.concat(yMinorTicks)).tickSize(-8).tickFormat(''))
  .call(styleAxis);

svg.append('rect').attr('x', plotL).attr('y', plotT).attr('width', plotR - plotL).attr('height', plotB - plotT)
  .attr('fill', 'none').attr('stroke', '#000').attr('stroke-width', 2.2);

// legend
const legendColors = ['#8178c4', '#1b9e77', '#d9661a', '#e7298a', '#999999', '#000000'];
const lg = svg.append('g');
legendLabels.forEach((lab, i) => {
  const yy = 105 + i * 39.2;
  lg.append('line').attr('x1', 143).attr('x2', 205).attr('y1', yy).attr('y2', yy)
    .attr('stroke', legendColors[i]).attr('stroke-width', 3.5);
  lg.append('text').attr('x', 214).attr('y', yy).attr('dy', '0.36em')
    .attr('font-family', FONT).attr('font-size', 30.5).attr('fill', '#111').text(lab);
});
svg.append('text').attr('x', 152).attr('y', 395).attr('font-family', FONT).attr('font-size', 29)
  .attr('fill', '#111').text('20 models');

// title
const title = svg.append('text').attr('x', 133).attr('y', 43).attr('font-family', TFONT)
  .attr('font-size', 36).attr('fill', '#000').text('Projections de la température globale de surface');
let tw = title.node().getComputedTextLength();
title.attr('font-size', 36 * 942 / tw);

// y label
const ylab = svg.append('text').attr('transform', 'translate(41,450) rotate(-90)')
  .attr('text-anchor', 'middle').attr('font-family', TFONT).attr('font-size', 30).attr('fill', '#000')
  .text('Anomalie de température (1986-2005) en °C');
let lw = ylab.node().getComputedTextLength();
ylab.attr('font-size', 30 * 670 / lw);
</script>
</body></html>
